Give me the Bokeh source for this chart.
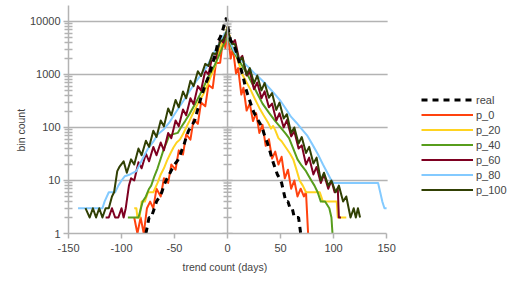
from bokeh.plotting import figure
from bokeh.models import FixedTicker, Legend, LegendItem, Range1d, Title, Span, BoxAnnotation
from bokeh.embed import file_html
from bokeh.resources import INLINE

# ---- tick labels ----
x_ticks = [-150, -100, -50, 0, 50, 100, 150]
x_tick_labels = ["-150", "-100", "-50", "0", "50", "100", "150"]
y_ticks = [1, 10, 100, 1000, 10000]
y_tick_labels = ["1", "10", "100", "1000", "10000"]
y_minor = [m * d for d in y_ticks[:-1] for m in range(2, 10)]

series_names = ["real", "p_0", "p_20", "p_40", "p_60", "p_80", "p_100"]

# ---- data ----
real_x = [-77, -74, -72, -69, -67, -64, -62, -60, -58, -55, -52, -50, -47, -45, -43, -41, -39, -37, -35, -33,
          -31, -29, -27, -25, -23, -21, -19, -17, -15, -13, -11, -9, -7, -5, -3, -1,
          1, 3, 5, 7, 9, 11, 13, 15, 17, 19, 21, 23, 25, 27, 29, 31, 33, 35, 37, 39,
          41, 43, 45, 47, 49, 51, 53, 55, 57, 59, 61, 63, 65, 67, 69, 71, 73]
real_y = [1, 2, 2, 3, 4, 5, 6, 8, 10, 13, 17, 20, 24, 29, 38, 48, 65, 85, 100, 115,
          135, 190, 260, 370, 480, 650, 800, 1000, 1400, 1900, 2600, 4200, 5000, 6300, 9000, 11750,
          6500, 4300, 4000, 3200, 2400, 1700, 1200, 860, 560, 420, 320, 240, 190, 160, 135, 115, 95, 70, 55, 42,
          30, 22, 17, 13, 11, 9, 6, 4, 4, 3, 3, 2, 2, 2, 1, 1, 1]

p0_x = [-88, -85, -82, -79, -76, -73, -70, -67, -63, -60, -56, -53, -49, -46, -42, -39, -35, -32, -28, -25,
        -21, -18, -14, -11, -7, -4, -2, 0, 1, 3, 5, 8, 10, 13, 15, 18, 21, 24, 27, 30, 33, 36, 39, 42, 45,
        48, 51, 54, 57, 60, 63, 66, 69, 72, 74, 76]
p0_y = [2, 1, 2, 1, 3, 4, 3, 7, 5, 11, 9, 20, 16, 37, 31, 74, 59, 141, 117, 295,
        251, 631, 550, 1622, 1660, 5012, 3162, 6026, 4365, 1995, 3162, 1047, 1318, 417, 562, 209, 282, 132, 186, 79, 112, 45, 60, 26, 35,
        20, 28, 11, 16, 7, 10, 5, 7, 5, 6, 1]

p20_x = [-88, -86, -85, -83, -81, -78, -75, -72, -70, -66, -63, -60, -57, -54, -51, -48, -45, -42, -39, -36,
         -33, -28, -23, -19, -15, -11, -8, -4, 0, 3, 6, 10, 14, 18, 22, 26, 30, 34, 38,
         41, 43, 45, 48, 51, 55, 59, 62, 65, 68, 71, 74, 87, 90, 103, 104, 112]
p20_y = [3, 3, 2, 2, 4, 4, 6, 6, 6, 9, 13, 17, 24, 32, 42, 52, 59, 75, 100, 132,
         178, 282, 417, 631, 1000, 1585, 2754, 4467, 7943, 4169, 2818, 1778, 1000, 708, 501, 339, 234, 170, 126,
         95, 107, 89, 63, 55, 42, 32, 25, 16, 10, 8, 6, 6, 4, 4, 2, 2]

p40_x = [-94, -84, -80, -77, -74, -72, -69, -66, -63, -60, -57, -55, -52, -47, -44, -40, -36, -31, -26, -21,
         -17, -12, -8, -4, 0, 4, 9, 14, 20, 26, 33, 39, 45, 50, 55,
         58, 62, 66, 70, 74, 79, 82, 85, 88, 92, 96, 98, 99]
p40_y = [2, 2, 4, 5, 7, 8, 12, 17, 26, 40, 55, 71, 74, 79, 100, 132, 178, 269, 417, 676,
         1000, 1514, 2291, 3548, 5248, 3162, 2089, 1445, 891, 525, 282, 191, 132, 100, 76,
         63, 40, 25, 19, 15, 10, 8, 6, 4, 4, 3, 2, 1]

p60_x = [-115, -112, -109, -106, -103, -100, -98, -96, -93, -91, -88, -84, -81, -77, -74, -70, -67, -63, -60, -56,
         -53, -49, -46, -42, -39, -35, -32, -28, -25, -21, -18, -14, -11, -7, -4, 0,
         4, 7, 11, 14, 18, 21, 25, 28, 32, 35, 39, 42, 46, 49, 53, 56, 60, 63, 67, 70,
         74, 77, 81, 84, 88, 91, 95, 98, 101, 104, 105, 107]
p60_y = [2, 2, 3, 2, 2, 3, 2, 3, 8, 11, 10, 22, 17, 32, 23, 43, 30, 52, 37, 79,
         63, 135, 105, 219, 170, 355, 275, 603, 500, 1175, 1000, 2344, 1995, 4677, 3981, 7000,
         3715, 4467, 1905, 2239, 955, 1122, 525, 708, 355, 479, 240, 282, 135, 186, 100, 138, 68, 85, 40, 46,
         20, 27, 13, 18, 9, 13, 7, 10, 6, 7, 2, 2]

p80_x = [-141, -118, -116, -112, -106, -103, -100, -97, -92, -86, -80, -75, -70, -66, -60, -55, -50, -45, -40, -36,
         -31, -26, -20, -15, -12, -8, -4, 0, 3, 6, 10, 14, 20, 25, 30, 35, 40, 45,
         50, 55, 60, 65, 70, 75, 80, 85, 90, 95, 98, 100, 142, 144, 146, 148, 150]
p80_y = [3, 3, 4, 6, 6, 8, 10, 12, 13, 15, 26, 40, 54, 74, 93, 123, 178, 251, 355, 479,
         676, 933, 1349, 2089, 2754, 3802, 5248, 7079, 3981, 2818, 2138, 1778, 1349, 1072, 871, 692, 537, 417,
         316, 224, 158, 123, 93, 71, 48, 32, 20, 13, 10, 9, 9, 6, 4, 3, 3]

p100_x = [-134, -130, -127, -124, -121, -118, -115, -112, -109, -107, -104, -102, -98, -95, -91, -88, -84, -81, -77, -74,
          -70, -67, -63, -60, -56, -53, -49, -46, -42, -39, -35, -32, -28, -25, -21, -18, -14, -11, -7, -4, 0,
          4, 7, 11, 14, 18, 21, 25, 28, 32, 35, 39, 42, 46, 49, 53, 56, 60, 63, 67, 70,
          74, 77, 81, 84, 88, 91, 95, 98, 102, 105, 109, 112, 116, 119, 121, 123, 125]
p100_y = [3, 2, 3, 2, 3, 2, 3, 3, 5, 6, 15, 18, 23, 14, 25, 20, 40, 30, 56, 43,
          87, 66, 135, 105, 229, 170, 331, 240, 479, 355, 759, 603, 1148, 933, 1585, 1445, 2512, 2399, 4169, 4571, 7079,
          3802, 3715, 1778, 2089, 1000, 1318, 676, 955, 501, 692, 363, 447, 214, 295, 148, 178, 79, 100, 50, 66,
          33, 43, 21, 27, 10, 14, 8, 10, 6, 8, 4, 5, 2, 3, 2, 3, 2]

series_x = [real_x, p0_x, p20_x, p40_x, p60_x, p80_x, p100_x]
series_y = [real_y, p0_y, p20_y, p40_y, p60_y, p80_y, p100_y]
colors = ["#000000", "#ff420e", "#ffd320", "#579d1c", "#7e0021", "#83caff", "#314004"]

FONT = "Liberation Sans"
GRID = "#b3b3b3"

# the frame is widened to the right so the legend (drawn inside it) is not clipped;
# the part beyond x = 150 is blanked out
p = figure(width=508, height=282, output_backend="svg", toolbar_location=None,
           x_range=Range1d(-150, 265), y_range=Range1d(1, 20000), y_axis_type="log",
           min_border_left=68, min_border_right=0, min_border_top=5, min_border_bottom=49,
           background_fill_color="white", border_fill_color="white")
p.outline_line_color = None

# x axis
xa = p.xaxis[0]
xa.ticker = FixedTicker(ticks=x_ticks)
xa.bounds = (x_ticks[0], x_ticks[-1])
xa.major_label_overrides = {t: l for t, l in zip(x_ticks, x_tick_labels)}
xa.major_label_text_font = FONT
xa.major_label_text_font_size = "11px"
xa.major_label_standoff = 5
xa.axis_line_color = GRID
xa.axis_line_width = 1.5
xa.major_tick_line_color = GRID
xa.major_tick_line_width = 1.5
xa.major_tick_in = 0
xa.major_tick_out = 5
xa.minor_tick_line_color = None

xtitle = Title(text="trend count (days)", align="left", vertical_align="top", offset=114, standoff=12,
               text_font=FONT, text_font_size="10.5px", text_font_style="normal")
p.add_layout(xtitle, "below")

# y axis (left)
ya = p.yaxis[0]
ya.ticker = FixedTicker(ticks=y_ticks, minor_ticks=y_minor)
ya.major_label_overrides = {t: l for t, l in zip(y_ticks, y_tick_labels)}
ya.major_label_text_font = FONT
ya.major_label_text_font_size = "11px"
ya.major_label_standoff = 3
ya.axis_line_color = GRID
ya.axis_line_width = 1.5
ya.major_tick_line_color = GRID
ya.major_tick_line_width = 1.5
ya.major_tick_in = 0
ya.major_tick_out = 5
ya.minor_tick_line_color = GRID
ya.minor_tick_line_width = 1.5
ya.minor_tick_in = 4
ya.minor_tick_out = 4

ytitle = Title(text="bin count", align="left", offset=82, standoff=0,
               text_font=FONT, text_font_size="10.5px", text_font_style="normal")
p.add_layout(ytitle, "left")

p.xgrid.visible = False
p.ygrid.grid_line_color = GRID
p.ygrid.grid_line_width = 1.5

# axis line crossing at x = 0, with its ticks
p.add_layout(Span(location=0, dimension="height", line_color=GRID, line_width=1.5))
p.scatter([0] * len(y_minor), y_minor, marker="dash", size=8, line_color=GRID, line_width=1.5)
p.scatter([0] * len(y_ticks), y_ticks, marker="dash", size=10, line_color=GRID, line_width=1.5)

renderers = {}
order = [1, 2, 3, 4, 5, 6, 0]
for i in order:
    if i == 0:
        r = p.line(series_x[i], series_y[i], line_color=colors[i], line_width=3,
                   line_dash="6 5", line_cap="butt")
    else:
        r = p.line(series_x[i], series_y[i], line_color=colors[i], line_width=2,
                   line_join="round")
    renderers[i] = r

# blank the widened area right of the x axis end
p.add_layout(BoxAnnotation(left=x_ticks[-1] + 1, fill_color="white", fill_alpha=1.0, line_color=None))

legend = Legend(items=[LegendItem(label=series_names[i], renderers=[renderers[i]]) for i in range(7)],
                location=(353, 36), padding=0, margin=0, spacing=0,
                glyph_width=52, glyph_height=15, label_height=15, label_standoff=3,
                label_text_font=FONT, label_text_font_size="11px",
                border_line_color=None, background_fill_alpha=0)
p.add_layout(legend)

open("out.html", "w").write(file_html(p, INLINE))
